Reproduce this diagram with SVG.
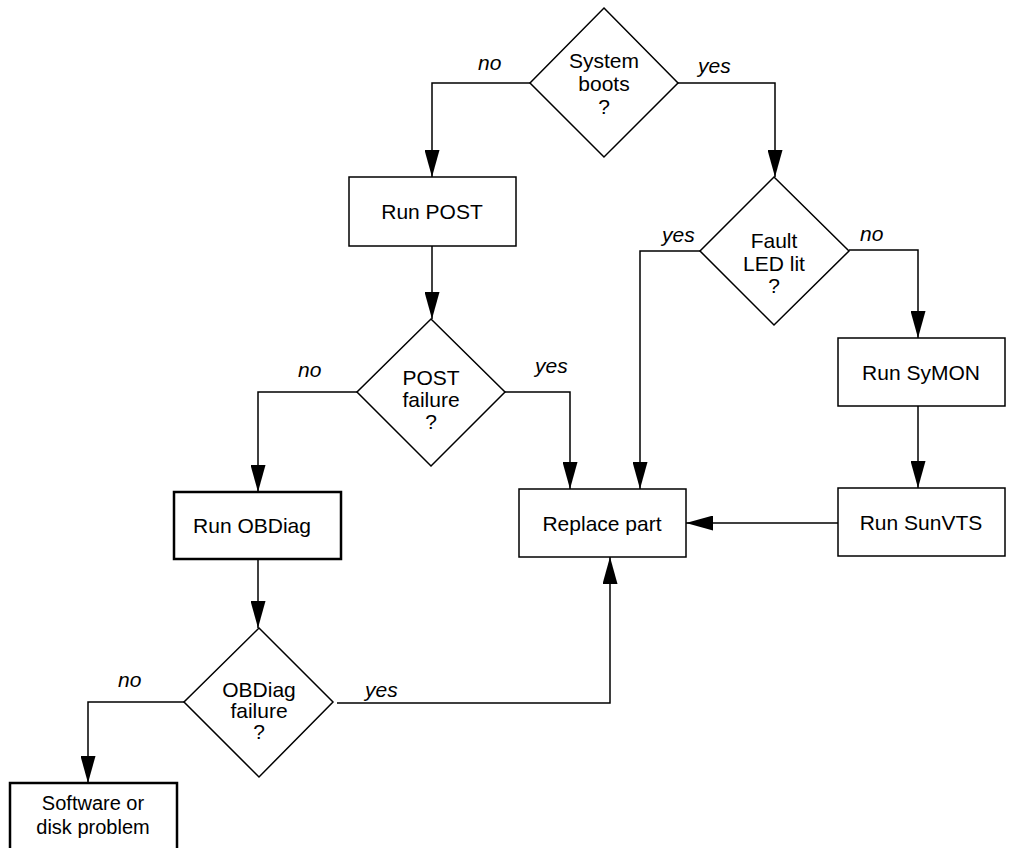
<svg xmlns="http://www.w3.org/2000/svg" width="1009" height="848" viewBox="0 0 1009 848">
<defs>
<style>
.box{fill:#fff;stroke:#000;stroke-width:1.5}
.thick{fill:#fff;stroke:#000;stroke-width:2.5}
.dia{fill:#fff;stroke:#000;stroke-width:1.5}
.t{font-family:"Liberation Sans",Arial,sans-serif;font-size:21px;fill:#000;text-anchor:middle}
.sm{font-size:20px}
.lbl{font-family:"Liberation Sans",Arial,sans-serif;font-size:21px;font-style:italic;fill:#000}
.c{fill:none;stroke:#000;stroke-width:1.5}
.a{marker-end:url(#arr)}
</style>
<marker id="arr" viewBox="0 0 27 15" refX="27" refY="7.5" markerWidth="27" markerHeight="15" markerUnits="userSpaceOnUse" orient="auto">
<path d="M0,0 L27,7.5 L0,15 Z" fill="#000"/>
</marker>
</defs>
<rect width="1009" height="848" fill="#fff"/>
<g id="connectors">
<path class="c a" d="M530,83 H432 V177"/>
<path class="c a" d="M678,83 H775 V177"/>
<path class="c a" d="M432,246 V319"/>
<path class="c a" d="M505,392 H570 V489"/>
<path class="c a" d="M357,392 H258 V492"/>
<path class="c a" d="M258,559 V628"/>
<path class="c a" d="M184,702 H88 V783"/>
<path class="c a" d="M337,703 H610 V557"/>
<path class="c a" d="M700,251 H640 V489"/>
<path class="c a" d="M849,250 H918 V338"/>
<path class="c a" d="M918,406 V488"/>
<path class="c a" d="M838,523 H686"/>
</g>
<g id="labels">
<text class="lbl" x="478" y="70">no</text>
<text class="lbl" x="698" y="73">yes</text>
<text class="lbl" x="662" y="242">yes</text>
<text class="lbl" x="860" y="241">no</text>
<text class="lbl" x="535" y="373">yes</text>
<text class="lbl" x="298" y="377">no</text>
<text class="lbl" x="118" y="687">no</text>
<text class="lbl" x="365" y="697">yes</text>
</g>
<g id="system-boots">
<polygon class="dia" points="604,8 678,83 604,157 530,83"/>
<text class="t" x="604" y="68">System</text>
<text class="t" x="604" y="91">boots</text>
<text class="t" x="604" y="114">?</text>
</g>
<g id="run-post">
<rect class="box" x="349" y="177" width="167" height="69"/>
<text class="t" x="432" y="219">Run POST</text>
</g>
<g id="post-failure">
<polygon class="dia" points="431,319 505,392 431,466 357,392"/>
<text class="t" x="431" y="385">POST</text>
<text class="t" x="431" y="407">failure</text>
<text class="t" x="431" y="429">?</text>
</g>
<g id="fault-led">
<polygon class="dia" points="774,177 849,251 774,325 700,251"/>
<text class="t" x="774" y="248">Fault</text>
<text class="t" x="774" y="271">LED lit</text>
<text class="t" x="774" y="293">?</text>
</g>
<g id="run-symon">
<rect class="box" x="838" y="338" width="167" height="68"/>
<text class="t" x="921" y="380">Run SyMON</text>
</g>
<g id="run-sunvts">
<rect class="box" x="838" y="488" width="167" height="68"/>
<text class="t" x="921" y="530">Run SunVTS</text>
</g>
<g id="replace-part">
<rect class="box" x="519" y="489" width="167" height="68"/>
<text class="t" x="602" y="531">Replace part</text>
</g>
<g id="run-obdiag">
<rect class="thick" x="174" y="492" width="167" height="67"/>
<text class="t" x="252" y="533">Run OBDiag</text>
</g>
<g id="obdiag-failure">
<polygon class="dia" points="259,628 333,702 259,777 184,702"/>
<text class="t" x="259" y="697">OBDiag</text>
<text class="t" x="259" y="718">failure</text>
<text class="t" x="259" y="739">?</text>
</g>
<g id="software-disk">
<rect class="thick" x="10" y="783" width="167" height="80"/>
<text class="t sm" x="93" y="810">Software or</text>
<text class="t sm" x="93" y="834">disk problem</text>
</g>
</svg>
